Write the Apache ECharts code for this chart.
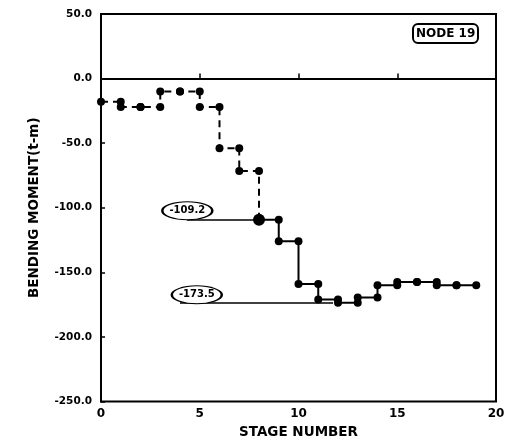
<!DOCTYPE html>
<html>
<head>
<meta charset="utf-8">
<script src="https://cdn.jsdelivr.net/npm/echarts@6/dist/echarts.min.js"></script>
<style>
  html, body { margin: 0; padding: 0; background: #fff; }
  #chart { width: 512px; height: 445px; }
</style>
</head>
<body>
<div id="chart"></div>
<script>
// Bending moment held over each construction stage interval [i, i+1]
const stageStarts = [0, 1, 2, 3, 4, 5, 6, 7, 8, 9, 10, 11, 12, 13, 14, 15, 16, 17, 18];
const moments = [-18, -22, -22, -10, -10, -22, -54, -71.5, -109.2, -126, -159, -171, -173.5, -169.5, -160, -157.5, -157.5, -160, -160];

// Stage at which the dashed (early) part ends and the solid part begins
const splitStage = 8;

// Axis ticks
const xTicks = [0, 5, 10, 15, 20];
const yTicks = [-250, -200, -150, -100, -50, 0, 50];

// Callouts: index into moments, text anchor (stage, moment), leader start / end stage
const calloutIndex = [8, 12];
const calloutAnchor = [[4.37, -102.3], [4.85, -167.4]];
const calloutLeader = [[4.35, 8], [4.0, 11.75]];

const FONT = 'DejaVu Sans';

// Build the stepped path: each interval contributes its start and end point
function pointsFor(from, to) {
  const pts = [];
  for (let k = from; k <= to; k++) {
    const s = stageStarts[k];
    pts.push([s, moments[k]]);
    pts.push([s + 1, moments[k]]);
  }
  return pts;
}
const splitIdx = stageStarts.indexOf(splitStage);
const dashedPts = pointsFor(0, splitIdx - 1);
dashedPts.push([splitStage, moments[splitIdx]]);
const solidPts = pointsFor(splitIdx, stageStarts.length - 1);
// emphasise the first solid point
solidPts[0] = { value: solidPts[0], symbolSize: 12 };

const chart = echarts.init(document.getElementById('chart'), null, { renderer: 'canvas' });

const markLines = [
  { yAxis: 0, lineStyle: { type: 'solid', width: 1.5, color: '#000' } }
];
const markPts = [];
calloutIndex.forEach((idx, i) => {
  const v = moments[idx];
  markLines.push([
    { coord: [calloutLeader[i][0], v] },
    { coord: [calloutLeader[i][1], v] }
  ]);
  markPts.push({ coord: calloutAnchor[i], value: v });
});

chart.setOption({
  animation: false,
  backgroundColor: '#fff',
  title: {
    text: 'NODE 19',
    left: 413,
    top: 24,
    padding: [3, 3],
    borderColor: '#000',
    borderWidth: 2,
    borderRadius: 5,
    textStyle: { fontFamily: FONT, fontWeight: 'bold', fontSize: 12, color: '#000', lineHeight: 13 }
  },
  grid: {
    left: 101, right: 16, top: 14, bottom: 43.5,
    show: true, borderColor: '#000', borderWidth: 2, backgroundColor: 'transparent'
  },
  xAxis: {
    type: 'value',
    min: xTicks[0], max: xTicks[xTicks.length - 1], interval: 5,
    name: 'STAGE NUMBER',
    nameLocation: 'middle',
    nameGap: 24,
    nameTextStyle: { fontFamily: FONT, fontWeight: 'bold', fontSize: 13.5, color: '#000' },
    axisLine: { lineStyle: { color: '#000', width: 2 } },
    axisTick: { inside: true, length: 5, lineStyle: { color: '#000', width: 1.5 } },
    axisLabel: { fontFamily: FONT, fontWeight: 'bold', fontSize: 12, color: '#000', margin: 6 },
    splitLine: { show: false }
  },
  yAxis: {
    type: 'value',
    min: yTicks[0], max: yTicks[yTicks.length - 1], interval: 50,
    name: 'BENDING MOMENT(t-m)',
    nameLocation: 'middle',
    nameGap: 60,
    nameTextStyle: { fontFamily: FONT, fontWeight: 'bold', fontSize: 13.5, color: '#000' },
    axisLine: { lineStyle: { color: '#000', width: 2 } },
    axisTick: { inside: true, length: 4, lineStyle: { color: '#000', width: 1.5 } },
    axisLabel: {
      fontFamily: FONT, fontWeight: 'bold', fontSize: 10.5, color: '#000', margin: 9,
      formatter: v => v.toFixed(1)
    },
    splitLine: { show: false }
  },
  series: [
    {
      type: 'line',
      data: dashedPts,
      symbol: 'circle',
      symbolSize: 8,
      showAllSymbol: true,
      itemStyle: { color: '#000' },
      lineStyle: { color: '#000', width: 2, type: [7, 5] },
      z: 3
    },
    {
      type: 'line',
      data: solidPts,
      symbol: 'circle',
      symbolSize: 8,
      showAllSymbol: true,
      itemStyle: { color: '#000' },
      lineStyle: { color: '#000', width: 2, type: 'solid' },
      z: 3,
      markLine: {
        silent: true,
        symbol: 'none',
        label: { show: false },
        lineStyle: { color: '#000', width: 1.5, type: 'solid' },
        data: markLines
      },
      markPoint: {
        symbol: 'circle',
        symbolSize: [50, 18],
        itemStyle: { color: '#fff', borderColor: '#000', borderWidth: 1.5 },
        label: {
          show: true,
          position: 'inside',
          fontFamily: FONT, fontWeight: 'bold', fontSize: 10, color: '#000',
          formatter: p => p.value.toFixed(1)
        },
        data: markPts
      }
    }
  ]
});
</script>
</body>
</html>
